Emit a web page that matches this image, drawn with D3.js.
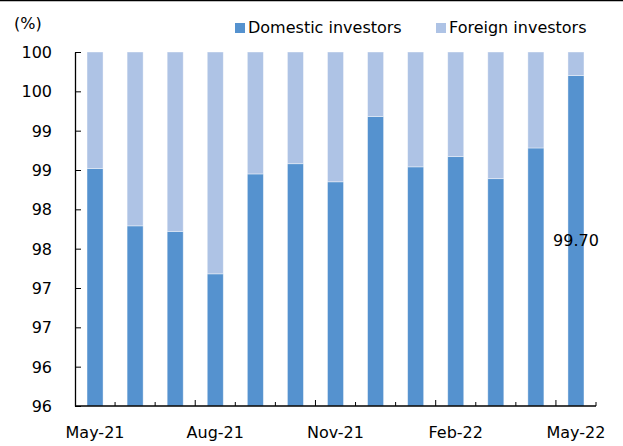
<!DOCTYPE html>
<html>
<head>
<meta charset="utf-8">
<script src="https://cdn.jsdelivr.net/npm/d3@7"></script>
<style>
  body { margin: 0; background: #fff; }
  svg text { font-family: "DejaVu Sans", sans-serif; fill: #000; }
</style>
</head>
<body>
<svg width="623" height="446"></svg>
<script>
// data
let months = ["May-21", "Jun-21", "Jul-21", "Aug-21", "Sep-21", "Oct-21", "Nov-21",
              "Dec-21", "Jan-22", "Feb-22", "Mar-22", "Apr-22", "May-22"];
let domestic = [98.52, 97.79, 97.72, 97.18, 98.45, 98.58, 98.35, 99.18, 98.54, 98.67, 98.39, 98.78, 99.70];
let foreign = domestic.map(function (d) { return +(100 - d).toFixed(2); });
let yTicks = [95.5, 96, 96.5, 97, 97.5, 98, 98.5, 99, 99.5, 100];
let xLabelled = ["May-21", "Aug-21", "Nov-21", "Feb-22", "May-22"];

let svg = d3.select("svg"),
    plotLeft = 75, plotRight = 596, plotTop = 52, plotBottom = 406;

let dark = "#5592cf", light = "#aec3e5";

// frame line at the very top
svg.append("line")
    .attr("x1", 0).attr("x2", 623).attr("y1", 0.5).attr("y2", 0.5)
    .attr("stroke", "#000").attr("stroke-width", 1.5);

let xScale = d3.scaleBand().domain(months).range([plotLeft, plotRight]).paddingInner(0.6).paddingOuter(0.3);
let yScale = d3.scaleLinear().domain([95.5, 100]).range([plotBottom, plotTop]);

// stacked from the axis minimum (Excel style): domestic below, foreign on top
let rows = months.map(function (m, i) {
    return [
        { month: m, key: "domestic", y0: 95.5, y1: domestic[i] },
        { month: m, key: "foreign", y0: domestic[i], y1: domestic[i] + foreign[i] }
    ];
});

let g = svg.append("g");
g.selectAll(".col")
    .data(rows)
    .enter().append("g")
    .selectAll("rect")
    .data(function (d) { return d; })
    .enter().append("rect")
    .attr("fill", function (d) { return d.key === "domestic" ? dark : light; })
    .attr("x", function (d) { return xScale(d.month); })
    .attr("width", xScale.bandwidth())
    .attr("y", function (d) { return yScale(Math.min(d.y1, 100)); })
    .attr("height", function (d) { return yScale(d.y0) - yScale(Math.min(d.y1, 100)); })
    .attr("stroke", "#ffffff").attr("stroke-opacity", 0.5).attr("stroke-width", 0.8);

// y axis
let yAxis = g.append("g")
    .attr("transform", "translate(" + plotLeft + ",0)")
    .call(d3.axisLeft(yScale).tickValues(yTicks).tickSizeInner(-6).tickSizeOuter(0)
        .tickFormat(function (d) { return Math.round(d + 1e-9); }));
yAxis.select(".domain").attr("stroke", "#000").attr("stroke-width", 1.3);
yAxis.selectAll(".tick line").attr("stroke", "#000");
yAxis.selectAll(".tick text")
    .attr("x", -23).attr("dy", "0.35em")
    .style("font-size", "16px").style("font-family", "DejaVu Sans");

// x axis baseline + tick marks between categories
let boundaries = months.map(function (m) { return xScale(m) - xScale.step() * xScale.paddingInner() / 2; });
boundaries.push(plotRight);
g.append("line")
    .attr("x1", plotLeft).attr("x2", plotRight).attr("y1", plotBottom).attr("y2", plotBottom)
    .attr("stroke", "#000").attr("stroke-width", 1.3);
g.selectAll(".xtick")
    .data(boundaries.slice(1))
    .enter().append("line")
    .attr("x1", function (d) { return d; }).attr("x2", function (d) { return d; })
    .attr("y1", plotBottom)
    .attr("y2", function (d, i) { return (i + 1) % 3 === 0 && i < 12 ? plotBottom - 6 : plotBottom - 4; })
    .attr("stroke", "#000");

g.selectAll(".xlabel")
    .data(xLabelled)
    .enter().append("text")
    .attr("x", function (d) { return xScale(d) + xScale.bandwidth() / 2; })
    .attr("y", 438)
    .attr("text-anchor", "middle")
    .style("font-size", "16px")
    .text(function (d) { return d; });

// unit
svg.append("text").attr("x", 14).attr("y", 29).style("font-size", "16px").text("(%)");

// value label on last bar
let last = months[months.length - 1];
svg.append("text")
    .attr("x", xScale(last) + xScale.bandwidth() / 2)
    .attr("y", (yScale(domestic[domestic.length - 1]) + plotBottom) / 2)
    .attr("dy", "0.35em")
    .attr("text-anchor", "middle")
    .style("font-size", "16px")
    .text(domestic[domestic.length - 1].toFixed(2));

// legend
let legend = [["Domestic investors", dark, 235], ["Foreign investors", light, 436]];
legend.forEach(function (l) {
    svg.append("rect").attr("x", l[2]).attr("y", 23).attr("width", 10).attr("height", 10).attr("fill", l[1]);
    svg.append("text").attr("x", l[2] + 13).attr("y", 33).style("font-size", "16px").text(l[0]);
});
</script>
</body>
</html>
